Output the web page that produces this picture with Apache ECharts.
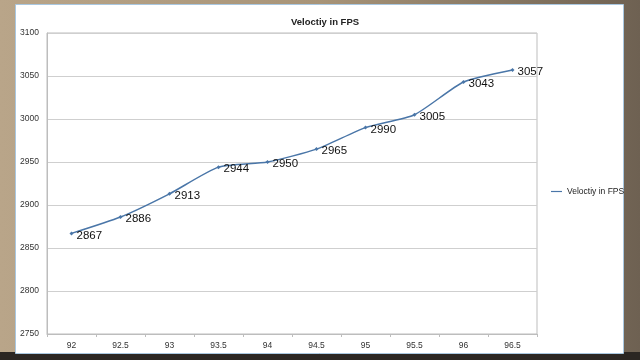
<!DOCTYPE html>
<html>
<head>
<meta charset="utf-8">
<script src="https://cdn.jsdelivr.net/npm/echarts@6/dist/echarts.min.js"></script>
<style>
html,body{margin:0;padding:0;background:#8a7a66;}
#c{width:640px;height:360px;}
</style>
</head>
<body>
<div id="c"></div>
<script>
const categories = ['92','92.5','93','93.5','94','94.5','95','95.5','96','96.5'];
const velocity = [2867, 2886, 2913, 2944, 2950, 2965, 2990, 3005, 3043, 3057];
const titleText = 'Veloctiy in FPS';
const seriesName = 'Veloctiy in FPS';

const chart = echarts.init(document.getElementById('c'));
chart.setOption({
  backgroundColor: 'transparent',
  animation: false,
  graphic: [
    {type:'rect', left:0, top:0, shape:{width:640,height:360}, style:{fill:{type:'linear',x:0,y:0,x2:1,y2:0,colorStops:[{offset:0,color:'#b9a589'},{offset:0.5,color:'#a89478'},{offset:1,color:'#6e6152'}]}}, z:-10},
    {type:'rect', left:0, top:352, shape:{width:640,height:8}, style:{fill:'#2b2622'}, z:-9},
    {type:'rect', left:15, top:4, shape:{width:608,height:349}, style:{fill:'#ffffff', stroke:'#a9c7e0', lineWidth:1}, z:-8}
  ],
  title: {
    text: titleText,
    left: 320, top: 12,
    textAlign: 'center',
    textStyle: {fontFamily:'Liberation Sans', fontSize:9.5, fontWeight:'bold', color:'#222'}
  },
  legend: {
    left: 546, top: 182,
    itemWidth: 11, itemHeight: 8,
    icon: 'path://M0,3.5L14,3.5L14,5L0,5Z',
    itemStyle: {color:'#4a76a8'},
    textStyle: {fontFamily:'Liberation Sans', fontSize:8.5, color:'#1a1a1a'},
    itemGap: 2,
    data: [seriesName]
  },
  grid: {left: 47, right: 103, top: 33, bottom: 26, show: true, borderColor:'#bdbdbd', borderWidth:1, backgroundColor:'transparent'},
  xAxis: {
    type: 'category',
    data: categories,
    boundaryGap: true,
    axisLine: {lineStyle:{color:'#bdbdbd'}},
    axisTick: {show:true, length:3, lineStyle:{color:'#bdbdbd'}},
    axisLabel: {fontFamily:'Liberation Sans', fontSize:8.5, color:'#333', margin:7}
  },
  yAxis: {
    type: 'value',
    min: 2750, max: 3100, interval: 50,
    axisLine: {show:true, lineStyle:{color:'#bdbdbd'}},
    axisTick: {show:false},
    splitLine: {lineStyle:{color:'#cfcfcf', width:1}},
    axisLabel: {fontFamily:'Liberation Sans', fontSize:8.5, color:'#333', margin:8, formatter: v => String(v)}
  },
  series: [{
    name: seriesName,
    type: 'line',
    data: velocity,
    smooth: 0.2,
    symbol: 'diamond',
    symbolSize: 4,
    lineStyle: {color:'#4a76a8', width:1.5},
    itemStyle: {color:'#4a76a8'},
    label: {
      show: true,
      position: 'right',
      distance: 3,
      offset: [0, 2],
      fontFamily: 'Liberation Sans',
      fontSize: 11.5,
      color: '#111'
    }
  }]
});
</script>
</body>
</html>
